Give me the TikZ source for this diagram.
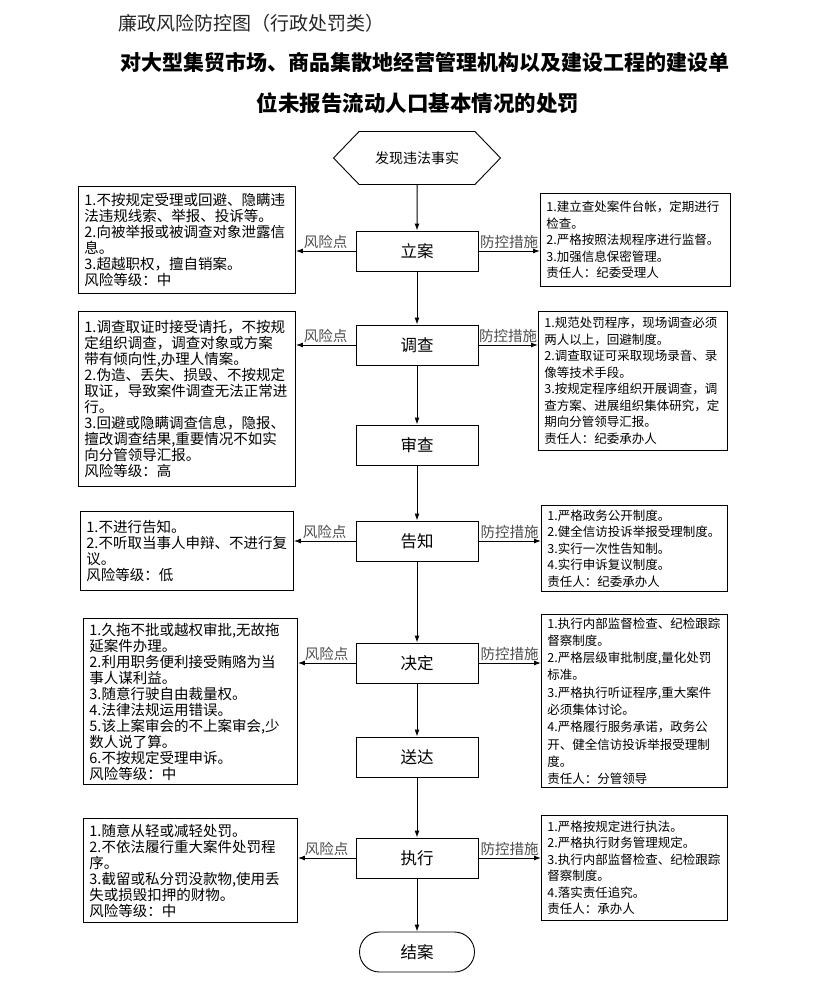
\documentclass[tikz,border=0pt]{standalone}
\usepackage{fontspec}
\setmainfont{Noto Sans CJK SC}
\usetikzlibrary{shapes.symbols,shapes.misc,arrows.meta}
\begin{document}
\begin{tikzpicture}[x=1pt,y=-1pt,
 arr/.style={-{Latex[length=7pt,width=5pt]}, line width=1pt},
 stepbox/.style={draw, line width=0.9pt, minimum width=122, minimum height=40, inner sep=0pt, font=\fontsize{16.5}{18}\selectfont},
 lbox/.style={draw, line width=0.9pt, anchor=north west, align=left, inner xsep=6pt, inner ysep=3pt, font=\fontsize{14.5}{16}\selectfont},
 rbox/.style={draw, line width=0.9pt, anchor=north west, align=left, inner xsep=6pt, inner ysep=3pt, font=\fontsize{12.5}{16.5}\selectfont},
 lab/.style={font=\fontsize{14.5}{16}\selectfont, text=black!70, inner sep=1.5pt}
]
\useasboundingbox (0,0) rectangle (823,987);

% titles
\node[font=\fontsize{19}{22}\selectfont, text=black!85] (t1) at (251,23) {廉政风险防控图（行政处罚类）};
\node[font=\fontsize{21}{24}\selectfont\bfseries] (t2) at (425,62) {对大型集贸市场、商品集散地经营管理机构以及建设工程的建设单};
\node[font=\fontsize{21.5}{24}\selectfont\bfseries] (t3) at (418,103) {位未报告流动人口基本情况的处罚};

% main flow
\node[draw, line width=0.9pt, signal, signal to=west and east, signal pointer angle=92, minimum width=167, minimum height=53, inner sep=0pt, font=\fontsize{14}{16}\selectfont] (s0) at (417,158) {发现违法事实};
\node[stepbox] (s1) at (417,251) {立案};
\node[stepbox] (s2) at (417,345) {调查};
\node[stepbox] (s3) at (417,445) {审查};
\node[stepbox] (s4) at (417,541) {告知};
\node[stepbox] (s5) at (417,663) {决定};
\node[stepbox] (s6) at (417,757) {送达};
\node[stepbox] (s7) at (417,858) {执行};
\node[draw, line width=0.9pt, rounded rectangle, minimum width=115, minimum height=40, inner sep=0pt, font=\fontsize{16.5}{18}\selectfont] (s8) at (417,952) {结案};

\draw[arr] (s0) -- (s1);
\draw[arr] (s1) -- (s2);
\draw[arr] (s2) -- (s3);
\draw[arr] (s3) -- (s4);
\draw[arr] (s4) -- (s5);
\draw[arr] (s5) -- (s6);
\draw[arr] (s6) -- (s7);
\draw[arr] (s7) -- (s8);

% left boxes
\node[lbox, text width=205, minimum height=107] (l1) at (78,186) {1.不按规定受理或回避、隐瞒违\\法违规线索、举报、投诉等。\\2.向被举报或被调查对象泄露信\\息。\\3.超越职权，擅自销案。\\风险等级：中};
\node[lbox, text width=205, minimum height=175] (l2) at (78,311) {1.调查取证时接受请托，不按规\\定组织调查，调查对象或方案\\带有倾向性,办理人情案。\\2.伪造、丢失、损毁、不按规定\\取证，导致案件调查无法正常进\\行。\\3.回避或隐瞒调查信息，隐报、\\擅改调查结果,重要情况不如实\\向分管领导汇报。\\风险等级：高};
\node[lbox, text width=201, minimum height=79] (l3) at (80,511) {1.不进行告知。\\2.不听取当事人申辩、不进行复\\议。\\风险等级：低};
\node[lbox, text width=202, minimum height=166] (l4) at (83,618) {1.久拖不批或越权审批,无故拖\\延案件办理。\\2.利用职务便利接受贿赂为当\\事人谋利益。\\3.随意行驶自由裁量权。\\4.法律法规运用错误。\\5.该上案审会的不上案审会,少\\数人说了算。\\6.不按规定受理申诉。\\风险等级：中};
\node[lbox, text width=202, minimum height=104] (l5) at (83,818) {1.随意从轻或减轻处罚。\\2.不依法履行重大案件处罚程\\序。\\3.截留或私分罚没款物,使用丢\\失或损毁扣押的财物。\\风险等级：中};

% right boxes
\node[rbox, text width=178, minimum height=93] (r1) at (540,193) {1.建立查处案件台帐，定期进行\\检查。\\2.严格按照法规程序进行监督。\\3.加强信息保密管理。\\责任人：纪委受理人};
\node[rbox, text width=177, minimum height=139] (r2) at (538,311) {1.规范处罚程序，现场调查必须\\两人以上，回避制度。\\2.调查取证可采取现场录音、录\\像等技术手段。\\3.按规定程序组织开展调查，调\\查方案、进展组织集体研究，定\\期向分管领导汇报。\\责任人：纪委承办人};
\node[rbox, text width=174, minimum height=86] (r3) at (541,505) {1.严格政务公开制度。\\2.健全信访投诉举报受理制度。\\3.实行一次性告知制。\\4.实行申诉复议制度。\\责任人：纪委承办人};
\node[rbox, text width=174, minimum height=173, font=\fontsize{12.5}{17.3}\selectfont] (r4) at (541,614) {1.执行内部监督检查、纪检跟踪\\督察制度。\\2.严格层级审批制度,量化处罚\\标准。\\3.严格执行听证程序,重大案件\\必须集体讨论。\\4.严格履行服务承诺，政务公\\开、健全信访投诉举报受理制\\度。\\责任人：分管领导};
\node[rbox, text width=174, minimum height=105] (r5) at (541,815) {1.严格按规定进行执法。\\2.严格执行财务管理规定。\\3.执行内部监督检查、纪检跟踪\\督察制度。\\4.落实责任追究。\\责任人：承办人};

% side connectors
\foreach \s/\l/\r in {s1/l1/r1, s2/l2/r2, s4/l3/r3, s5/l4/r4, s7/l5/r5}{
  \draw[arr] (\s.west) -- (\s.west -| \l.east) node[lab, midway, above] {风险点};
  \draw[arr] (\s.east) -- (\s.east -| \r.west) node[lab, midway, above] {防控措施};
}
\end{tikzpicture}
\end{document}
